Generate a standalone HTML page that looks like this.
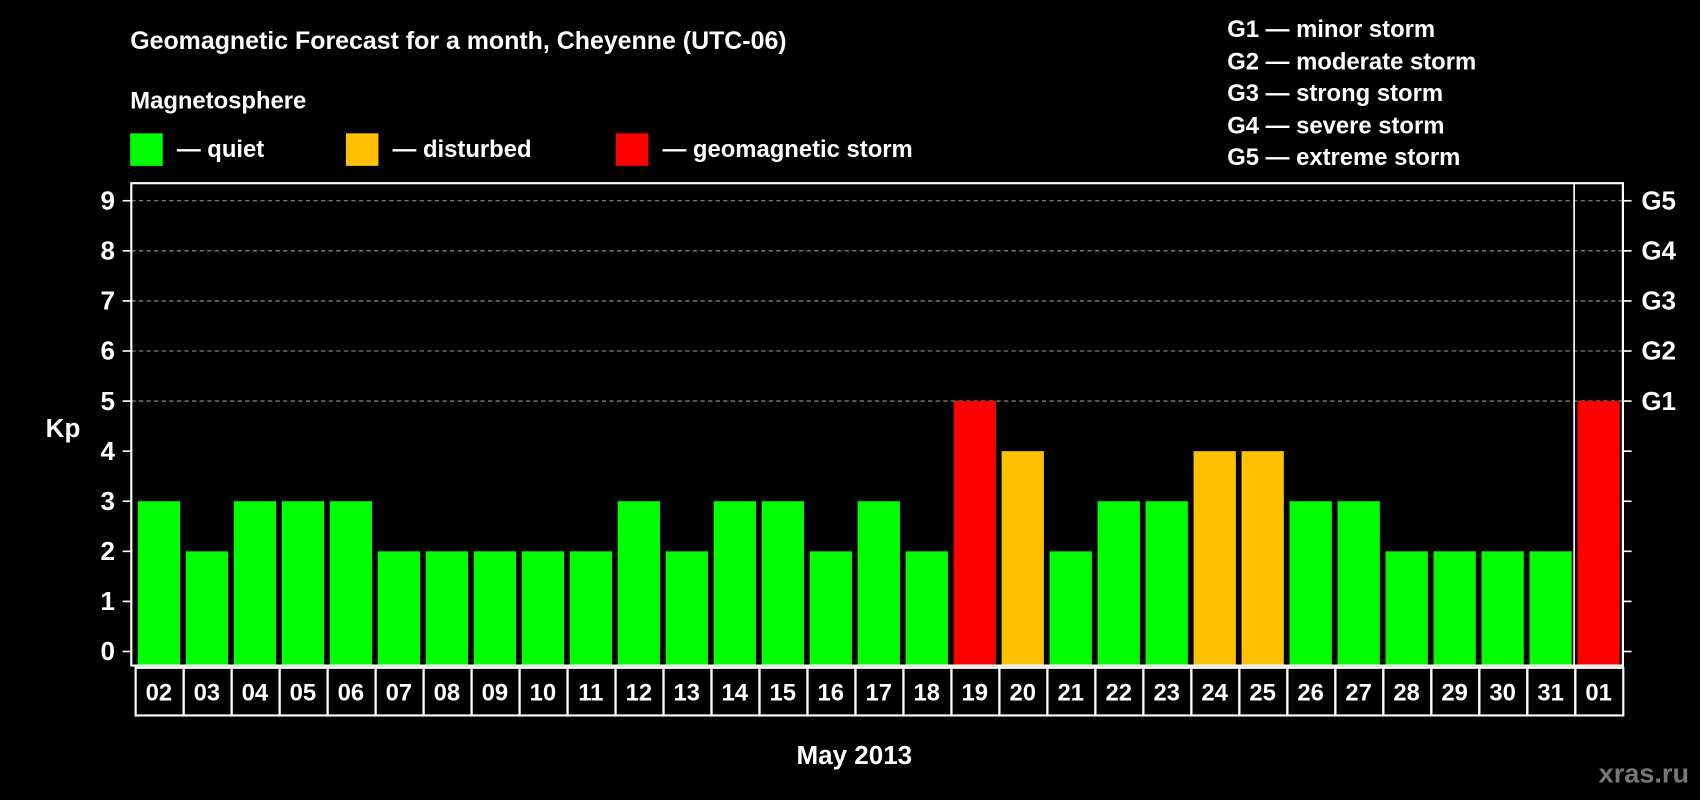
<!DOCTYPE html>
<html><head><meta charset="utf-8"><style>
html,body{margin:0;padding:0;background:#000;width:1700px;height:800px;overflow:hidden}
svg text{font-family:"Liberation Sans",Arial,sans-serif;font-weight:bold;fill:#fff}
</style></head><body>
<svg id="chart" width="1700" height="800" viewBox="0 0 1568 738" xmlns="http://www.w3.org/2000/svg">
<rect width="1568" height="738" fill="#000"/>
<text x="120" y="45" font-size="23">Geomagnetic Forecast for a month, Cheyenne (UTC-06)</text>
<text x="120" y="100" font-size="22">Magnetosphere</text>
<g font-size="22">
<rect x="120" y="123" width="30" height="30" fill="#00ff00"/>
<text x="163" y="145">— quiet</text>
<rect x="319" y="123" width="30" height="30" fill="#ffc000"/>
<text x="362" y="145">— disturbed</text>
<rect x="568" y="123" width="30" height="30" fill="#ff0000"/>
<text x="611" y="145">— geomagnetic storm</text>
</g>
<g font-size="22">
<text x="1132" y="34">G1 — minor storm</text>
<text x="1132" y="64">G2 — moderate storm</text>
<text x="1132" y="93">G3 — strong storm</text>
<text x="1132" y="123">G4 — severe storm</text>
<text x="1132" y="152">G5 — extreme storm</text>
</g>
<text x="58" y="403" font-size="24" text-anchor="middle">Kp</text>
<text x="788" y="705" font-size="24" text-anchor="middle">May 2013</text>
<text x="1558" y="722" font-size="25" text-anchor="end" style="fill:#777">xras.ru</text>
<g id="grid"></g><g id="bars"></g><g id="axes"></g>
</svg>
<script>
const days=["02","03","04","05","06","07","08","09","10","11","12","13","14","15","16","17","18","19","20","21","22","23","24","25","26","27","28","29","30","31","01"];
const kp=[3,2,3,3,3,2,2,2,2,2,3,2,3,3,2,3,2,5,4,2,3,3,4,4,3,3,2,2,2,2,5];
const yTicks=[0,1,2,3,4,5,6,7,8,9];
const gLabels=["G1","G2","G3","G4","G5"];
const gLevels=[5,6,7,8,9];
const NS="http://www.w3.org/2000/svg";
const L=121,R=1497,T=169,B=614;
function y(v){return 601-v*46.2;}
function x(i){return 127+i*44.27;}
const BW=39;
function mk(tag,attrs,parent){const e=document.createElementNS(NS,tag);for(const k in attrs)e.setAttribute(k,attrs[k]);parent.appendChild(e);return e;}
const grid=document.getElementById('grid'),bars=document.getElementById('bars'),axes=document.getElementById('axes');
gLevels.forEach(v=>{
 const l=mk('line',{x1:L,x2:R,y1:y(v),y2:y(v),stroke:'#999','stroke-dasharray':'4,3','stroke-width':1},grid);
 
 
});
function color(v){return v>=5?'#ff0000':(v>=4?'#ffc000':'#00ff00');}
kp.forEach((v,i)=>{
 const r=mk('rect',{x:x(i),y:y(v),width:BW,height:B-y(v),fill:color(v)},bars);
 
 
 const bx=x(i)-2;
 const box=mk('rect',{x:bx,y:616,width:44.27,height:44,fill:'none',stroke:'#fff','stroke-width':2},axes);
 
 
 const t=mk('text',{x:x(i)+BW/2,y:646,'font-size':22,'text-anchor':'middle'},axes);
 t.textContent=days[i];
 
 
});
const frame=mk('rect',{x:L,y:T,width:R-L,height:B-T,fill:'none',stroke:'#fff','stroke-width':2},axes);


const sep=mk('line',{x1:1452,x2:1452,y1:T,y2:B,stroke:'#fff','stroke-width':1.5},axes);


yTicks.forEach(v=>{
 const tl=mk('line',{x1:113,x2:L,y1:y(v),y2:y(v),stroke:'#fff','stroke-width':1.5},axes);
 
 
 const tr=mk('line',{x1:R,x2:1505,y1:y(v),y2:y(v),stroke:'#fff','stroke-width':1.5},axes);
 
 
 const t=mk('text',{x:106,y:y(v)+8,'font-size':24,'text-anchor':'end'},axes);
 t.textContent=v;
 
 
});
gLabels.forEach((g,i)=>{
 const t=mk('text',{x:1514,y:y(gLevels[i])+8,'font-size':24},axes);
 t.textContent=g;
 
 
});
</script>
</body></html>
